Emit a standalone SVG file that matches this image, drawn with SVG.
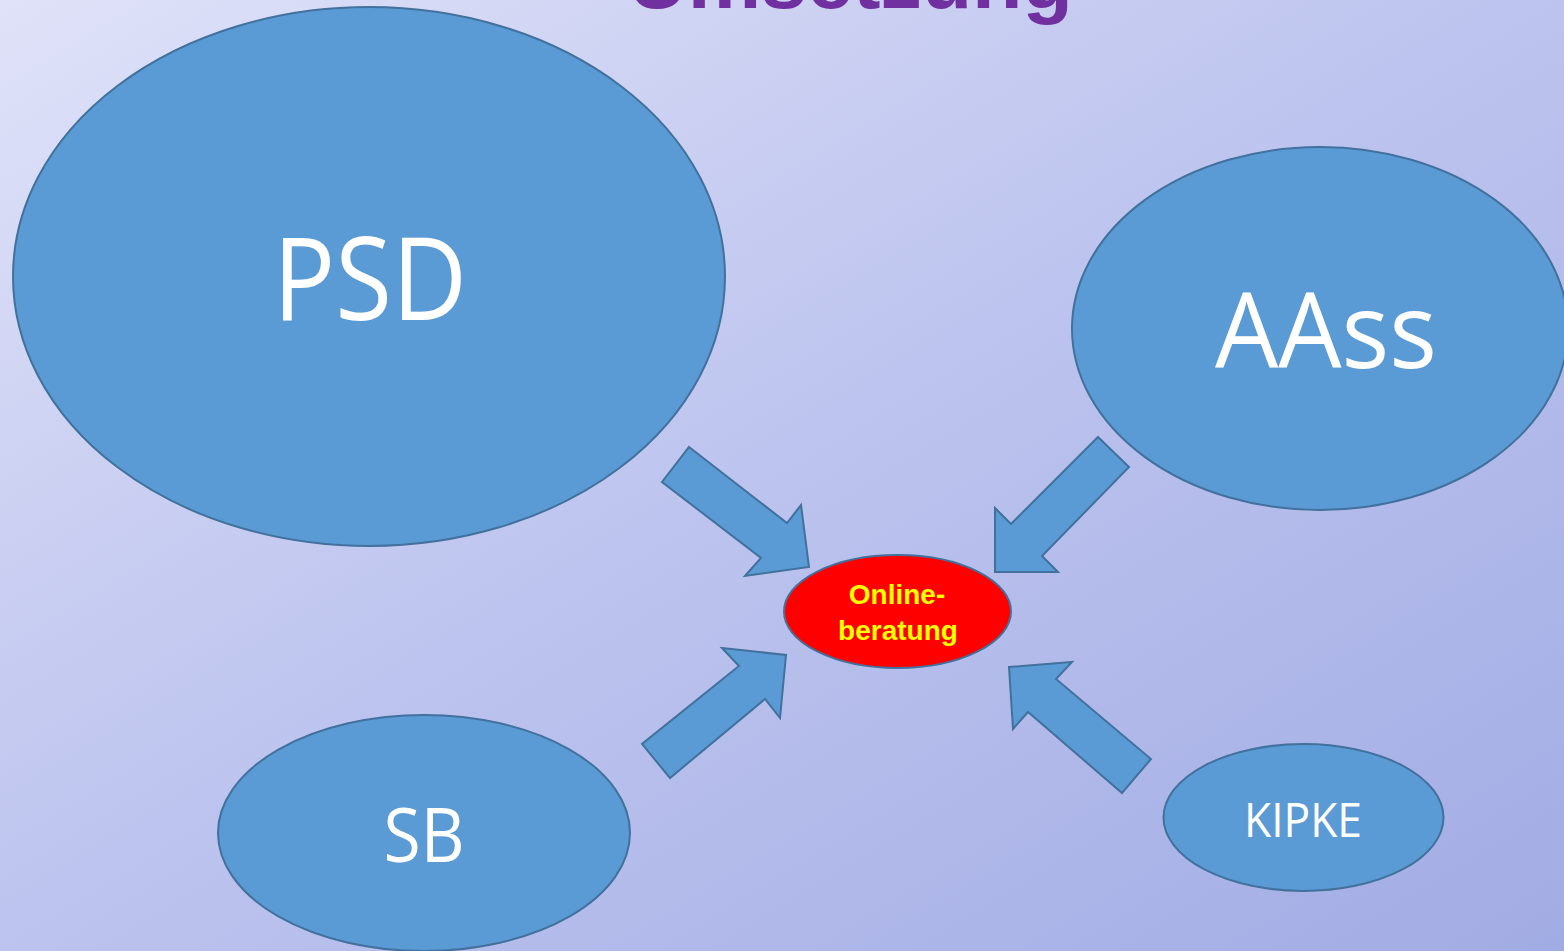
<svg xmlns="http://www.w3.org/2000/svg" width="1564" height="951" viewBox="0 0 1564 951">
<defs>
<linearGradient id="bg" x1="0" y1="0" x2="1" y2="1">
<stop offset="0" stop-color="#dfe2f8"/>
<stop offset="0.5" stop-color="#bcc3ee"/>
<stop offset="1" stop-color="#a2ace4"/>
</linearGradient>
</defs>
<style>
.node{fill:#5b9bd5;stroke:#41719c;stroke-width:2}
.arrow{fill:#5b9bd5;stroke:#41719c;stroke-width:2;stroke-linejoin:miter}
.lbl{font-family:"Open Sans","Liberation Sans",sans-serif;fill:#ffffff;text-anchor:middle}
.center{font-family:"Liberation Sans",Arial,sans-serif;font-weight:bold;fill:#ffff00;text-anchor:middle;font-size:28px}
.title{font-family:"Liberation Sans",Arial,sans-serif;font-weight:bold;fill:#7030a0;font-size:80px}
</style>
<rect x="0" y="0" width="1564" height="951" fill="url(#bg)"/>
<text class="title" x="628" y="8" textLength="445" lengthAdjust="spacingAndGlyphs">Umsetzung</text>
<g id="psd">
<ellipse class="node" cx="369" cy="276.5" rx="356" ry="269.5"/>
<text class="lbl" x="370" y="320" font-size="115" textLength="194" lengthAdjust="spacingAndGlyphs">PSD</text>
</g>
<g id="aass">
<ellipse class="node" cx="1320" cy="328.5" rx="248" ry="181.5"/>
<text class="lbl" x="1326" y="368" font-size="104" textLength="222" lengthAdjust="spacingAndGlyphs">AAss</text>
</g>
<g id="sb">
<ellipse class="node" cx="424" cy="833" rx="206" ry="118"/>
<text class="lbl" x="424" y="862" font-size="75" textLength="81" lengthAdjust="spacingAndGlyphs">SB</text>
</g>
<g id="kipke">
<ellipse class="node" cx="1303.5" cy="817.5" rx="140" ry="73.5"/>
<text class="lbl" x="1303" y="837" font-size="47" textLength="118" lengthAdjust="spacingAndGlyphs">KIPKE</text>
</g>
<g id="online">
<ellipse cx="897.5" cy="611.5" rx="113.5" ry="56.5" fill="#ff0000" stroke="#41719c" stroke-width="2"/>
<text class="center" x="897" y="604">Online-</text>
<text class="center" x="898" y="640">beratung</text>
</g>
<g id="connectors">
<polygon class="arrow" points="689,447 787,523 801,505 809,567 745,576 761,558 662,482"/>
<polygon class="arrow" points="1098,437 1129,467 1042,556 1058,572 995,572 995,508 1011,524"/>
<polygon class="arrow" points="722,648 786,655 780,718 765,699 670,778 642,744 739,666"/>
<polygon class="arrow" points="1009,667 1072,662 1056,679 1151,759 1122,793 1028,712 1013,729"/>
</g>
</svg>
